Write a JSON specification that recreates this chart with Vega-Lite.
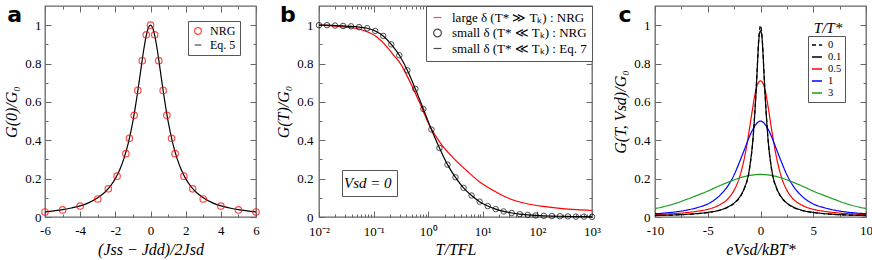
{
 "$schema": "https://vega.github.io/schema/vega-lite/v6.json",
 "padding": {"left": 3, "top": 3, "right": 0, "bottom": 3},
 "bounds": "flush",
 "spacing": 63,
 "resolve": {"scale": {"color": "independent", "shape": "independent", "strokeDash": "independent", "opacity": "independent"}, "legend": {"color": "independent", "shape": "independent", "strokeDash": "independent", "opacity": "independent"}},
 "config": {
  "font": "Liberation Serif",
  "view": {"stroke": "#666", "strokeWidth": 1.3},
  "axis": {"domain": false, "grid": false, "labelFont": "Liberation Serif", "labelFontSize": 13, "labelColor": "#000", "labelFlush": false, "labelOverlap": false, "titleFont": "Liberation Serif", "titleFontSize": 16, "titleFontStyle": "italic", "titleFontWeight": "normal", "titleColor": "#000", "tickColor": "#666", "tickWidth": 1},
  "legend": {"labelFont": "Liberation Serif", "labelColor": "#000", "strokeColor": "#555", "fillColor": "#fff"}
 },
 "hconcat": [
  {
   "width": 211, "height": 211,
   "data": {"values": [
    {"x": -6, "y": 0.027, "s": "Eq. 5"}, {"x": -5.5, "y": 0.032, "s": "Eq. 5"}, {"x": -5, "y": 0.038, "s": "Eq. 5"}, {"x": -4.5, "y": 0.047, "s": "Eq. 5"}, {"x": -4, "y": 0.058, "s": "Eq. 5"}, {"x": -3.5, "y": 0.075, "s": "Eq. 5"}, {"x": -3, "y": 0.1, "s": "Eq. 5"}, {"x": -2.75, "y": 0.117, "s": "Eq. 5"}, {"x": -2.5, "y": 0.138, "s": "Eq. 5"}, {"x": -2.25, "y": 0.165, "s": "Eq. 5"}, {"x": -2, "y": 0.2, "s": "Eq. 5"}, {"x": -1.75, "y": 0.246, "s": "Eq. 5"}, {"x": -1.5, "y": 0.308, "s": "Eq. 5"}, {"x": -1.25, "y": 0.39, "s": "Eq. 5"}, {"x": -1, "y": 0.5, "s": "Eq. 5"}, {"x": -0.875, "y": 0.566, "s": "Eq. 5"}, {"x": -0.75, "y": 0.64, "s": "Eq. 5"}, {"x": -0.625, "y": 0.719, "s": "Eq. 5"}, {"x": -0.5, "y": 0.8, "s": "Eq. 5"}, {"x": -0.375, "y": 0.877, "s": "Eq. 5"}, {"x": -0.25, "y": 0.941, "s": "Eq. 5"}, {"x": -0.125, "y": 0.985, "s": "Eq. 5"}, {"x": 0, "y": 1, "s": "Eq. 5"},
    {"x": 0.125, "y": 0.985, "s": "Eq. 5"}, {"x": 0.25, "y": 0.941, "s": "Eq. 5"}, {"x": 0.375, "y": 0.877, "s": "Eq. 5"}, {"x": 0.5, "y": 0.8, "s": "Eq. 5"}, {"x": 0.625, "y": 0.719, "s": "Eq. 5"}, {"x": 0.75, "y": 0.64, "s": "Eq. 5"}, {"x": 0.875, "y": 0.566, "s": "Eq. 5"}, {"x": 1, "y": 0.5, "s": "Eq. 5"}, {"x": 1.25, "y": 0.39, "s": "Eq. 5"}, {"x": 1.5, "y": 0.308, "s": "Eq. 5"}, {"x": 1.75, "y": 0.246, "s": "Eq. 5"}, {"x": 2, "y": 0.2, "s": "Eq. 5"}, {"x": 2.25, "y": 0.165, "s": "Eq. 5"}, {"x": 2.5, "y": 0.138, "s": "Eq. 5"}, {"x": 2.75, "y": 0.117, "s": "Eq. 5"}, {"x": 3, "y": 0.1, "s": "Eq. 5"}, {"x": 3.5, "y": 0.075, "s": "Eq. 5"}, {"x": 4, "y": 0.058, "s": "Eq. 5"}, {"x": 4.5, "y": 0.047, "s": "Eq. 5"}, {"x": 5, "y": 0.038, "s": "Eq. 5"}, {"x": 5.5, "y": 0.032, "s": "Eq. 5"}, {"x": 6, "y": 0.027, "s": "Eq. 5"},
    {"x": -6, "y": 0.026, "s": "NRG"}, {"x": -5, "y": 0.037, "s": "NRG"}, {"x": -4, "y": 0.057, "s": "NRG"}, {"x": -3, "y": 0.094, "s": "NRG"}, {"x": -2.4, "y": 0.147, "s": "NRG"}, {"x": -1.9, "y": 0.213, "s": "NRG"}, {"x": -1.4, "y": 0.33, "s": "NRG"}, {"x": -1.2, "y": 0.41, "s": "NRG"}, {"x": -0.93, "y": 0.53, "s": "NRG"}, {"x": -0.72, "y": 0.66, "s": "NRG"}, {"x": -0.47, "y": 0.815, "s": "NRG"}, {"x": -0.24, "y": 0.95, "s": "NRG"}, {"x": 0, "y": 1.0, "s": "NRG"},
    {"x": 0.24, "y": 0.95, "s": "NRG"}, {"x": 0.47, "y": 0.815, "s": "NRG"}, {"x": 0.72, "y": 0.66, "s": "NRG"}, {"x": 0.93, "y": 0.53, "s": "NRG"}, {"x": 1.2, "y": 0.41, "s": "NRG"}, {"x": 1.4, "y": 0.33, "s": "NRG"}, {"x": 1.9, "y": 0.213, "s": "NRG"}, {"x": 2.4, "y": 0.147, "s": "NRG"}, {"x": 3, "y": 0.094, "s": "NRG"}, {"x": 4, "y": 0.057, "s": "NRG"}, {"x": 5, "y": 0.037, "s": "NRG"}, {"x": 6, "y": 0.026, "s": "NRG"}
   ]},
   "resolve": {"axis": {"x": "independent", "y": "independent"}},
   "layer": [
    {
     "transform": [{"filter": "datum.s == 'Eq. 5'"}],
     "mark": {"type": "line", "strokeWidth": 1.2, "interpolate": "monotone"},
     "encoding": {
      "x": {"field": "x", "type": "quantitative", "scale": {"domain": [-6, 6], "nice": false},
            "axis": {"orient": "bottom", "values": [-6,-5,-4,-3,-2,-1,0,1,2,3,4,5,6], "tickSize": {"condition": {"test": "datum.value % 2 == 0", "value": -6}, "value": -3}, "labelExpr": "datum.value % 2 == 0 ? '' + datum.value : ''", "labelPadding": 13, "title": "(Jss − Jdd)/2Jsd", "titlePadding": 1}},
      "y": {"field": "y", "type": "quantitative", "scale": {"domain": [0, 1.1], "nice": false},
            "axis": {"orient": "left", "values": [0,0.1,0.2,0.3,0.4,0.5,0.6,0.7,0.8,0.9,1], "tickSize": {"condition": {"test": "round(datum.value*10) % 2 == 0", "value": -6}, "value": -3}, "labelExpr": "round(datum.value*10) % 2 == 0 ? format(datum.value, '~g') : ''", "labelPadding": 10, "title": "G(0)/G₀", "titlePadding": 5}},
      "color": {"field": "s", "type": "nominal", "scale": {"domain": ["NRG", "Eq. 5"], "range": ["#ff0000", "#000000"]},
                "legend": {"orient": "none", "legendX": 143, "legendY": 15, "title": null, "padding": 4, "labelFontSize": 12, "symbolSize": 45, "symbolStrokeWidth": 1.2, "rowPadding": 2, "labelOffset": 6}}
     }
    },
    {
     "transform": [{"filter": "datum.s == 'NRG'"}],
     "mark": {"type": "point", "filled": false, "size": 42, "strokeWidth": 1.2},
     "encoding": {
      "x": {"field": "x", "type": "quantitative", "axis": {"orient": "top", "values": [-6,-5,-4,-3,-2,-1,0,1,2,3,4,5,6], "tickSize": {"condition": {"test": "datum.value % 2 == 0", "value": -6}, "value": -3}, "labels": false, "title": null}},
      "y": {"field": "y", "type": "quantitative", "axis": {"orient": "right", "values": [0,0.1,0.2,0.3,0.4,0.5,0.6,0.7,0.8,0.9,1], "tickSize": {"condition": {"test": "round(datum.value*10) % 2 == 0", "value": -6}, "value": -3}, "labels": false, "title": null}},
      "color": {"field": "s", "type": "nominal", "scale": {"domain": ["NRG", "Eq. 5"], "range": ["#ff0000", "#000000"]},
                "legend": {"orient": "none", "legendX": 143, "legendY": 15, "title": null, "padding": 4, "labelFontSize": 12, "symbolSize": 45, "symbolStrokeWidth": 1.2, "rowPadding": 2, "labelOffset": 6}},
      "shape": {"field": "s", "type": "nominal", "scale": {"domain": ["NRG", "Eq. 5"], "range": ["circle", "stroke"]},
                "legend": {"orient": "none", "legendX": 143, "legendY": 15, "title": null, "padding": 4, "labelFontSize": 12, "symbolSize": 45, "symbolStrokeWidth": 1.2, "rowPadding": 2, "labelOffset": 6}}
     }
    },
    {
     "data": {"values": [{"t": "a"}]},
     "mark": {"type": "text", "font": "DejaVu Sans", "fontWeight": "bold", "fontSize": 22, "align": "center", "baseline": "alphabetic"},
     "encoding": {"text": {"field": "t"}, "x": {"datum": -7.73, "axis": null}, "y": {"datum": 1.015, "axis": null}}
    }
   ]
  },
  {
   "width": 273, "height": 211,
   "data": {"values": [
    {"x": 0.01, "y": 1.0, "s": "large"}, {"x": 0.02, "y": 0.995, "s": "large"}, {"x": 0.03, "y": 0.99, "s": "large"}, {"x": 0.056, "y": 0.979, "s": "large"}, {"x": 0.113, "y": 0.94, "s": "large"}, {"x": 0.16, "y": 0.9, "s": "large"}, {"x": 0.23, "y": 0.845, "s": "large"}, {"x": 0.31, "y": 0.8, "s": "large"}, {"x": 0.46, "y": 0.707, "s": "large"}, {"x": 0.7, "y": 0.595, "s": "large"}, {"x": 1.07, "y": 0.474, "s": "large"}, {"x": 1.65, "y": 0.388, "s": "large"}, {"x": 2.9, "y": 0.307, "s": "large"}, {"x": 5.1, "y": 0.241, "s": "large"}, {"x": 8.9, "y": 0.181, "s": "large"}, {"x": 15.6, "y": 0.138, "s": "large"}, {"x": 31, "y": 0.095, "s": "large"}, {"x": 64, "y": 0.069, "s": "large"}, {"x": 130, "y": 0.055, "s": "large"}, {"x": 260, "y": 0.045, "s": "large"}, {"x": 520, "y": 0.038, "s": "large"}, {"x": 1000, "y": 0.034, "s": "large"},
    {"x": 0.01, "y": 1.0, "s": "eq7"}, {"x": 0.014, "y": 1.0, "s": "eq7"}, {"x": 0.0197, "y": 0.998, "s": "eq7"}, {"x": 0.0276, "y": 0.996, "s": "eq7"}, {"x": 0.0387, "y": 0.994, "s": "eq7"}, {"x": 0.0543, "y": 0.99, "s": "eq7"}, {"x": 0.0762, "y": 0.984, "s": "eq7"}, {"x": 0.107, "y": 0.97, "s": "eq7"}, {"x": 0.15, "y": 0.944, "s": "eq7"}, {"x": 0.211, "y": 0.9, "s": "eq7"}, {"x": 0.296, "y": 0.843, "s": "eq7"}, {"x": 0.415, "y": 0.765, "s": "eq7"}, {"x": 0.582, "y": 0.668, "s": "eq7"}, {"x": 0.816, "y": 0.563, "s": "eq7"}, {"x": 1.145, "y": 0.456, "s": "eq7"}, {"x": 1.607, "y": 0.36, "s": "eq7"}, {"x": 2.254, "y": 0.273, "s": "eq7"}, {"x": 3.16, "y": 0.207, "s": "eq7"}, {"x": 4.44, "y": 0.152, "s": "eq7"}, {"x": 6.23, "y": 0.112, "s": "eq7"}, {"x": 8.74, "y": 0.08, "s": "eq7"}, {"x": 12.3, "y": 0.057, "s": "eq7"}, {"x": 17.2, "y": 0.041, "s": "eq7"}, {"x": 24.1, "y": 0.029, "s": "eq7"}, {"x": 33.8, "y": 0.021, "s": "eq7"}, {"x": 47.5, "y": 0.015, "s": "eq7"}, {"x": 66.6, "y": 0.011, "s": "eq7"}, {"x": 93.4, "y": 0.008, "s": "eq7"}, {"x": 131, "y": 0.006, "s": "eq7"}, {"x": 184, "y": 0.005, "s": "eq7"}, {"x": 258, "y": 0.004, "s": "eq7"}, {"x": 362, "y": 0.003, "s": "eq7"}, {"x": 508, "y": 0.002, "s": "eq7"}, {"x": 713, "y": 0.002, "s": "eq7"}, {"x": 1000, "y": 0.001, "s": "eq7"},
    {"x": 0.01, "y": 1.0, "s": "nrg"}, {"x": 0.014, "y": 1.0, "s": "nrg"}, {"x": 0.0197, "y": 0.998, "s": "nrg"}, {"x": 0.0276, "y": 0.996, "s": "nrg"}, {"x": 0.0387, "y": 0.994, "s": "nrg"}, {"x": 0.0543, "y": 0.99, "s": "nrg"}, {"x": 0.0762, "y": 0.984, "s": "nrg"}, {"x": 0.107, "y": 0.97, "s": "nrg"}, {"x": 0.15, "y": 0.944, "s": "nrg"}, {"x": 0.211, "y": 0.9, "s": "nrg"}, {"x": 0.296, "y": 0.843, "s": "nrg"}, {"x": 0.415, "y": 0.765, "s": "nrg"}, {"x": 0.582, "y": 0.668, "s": "nrg"}, {"x": 0.816, "y": 0.563, "s": "nrg"}, {"x": 1.145, "y": 0.456, "s": "nrg"}, {"x": 1.607, "y": 0.36, "s": "nrg"}, {"x": 2.254, "y": 0.273, "s": "nrg"}, {"x": 3.16, "y": 0.207, "s": "nrg"}, {"x": 4.44, "y": 0.152, "s": "nrg"}, {"x": 6.23, "y": 0.112, "s": "nrg"}, {"x": 8.74, "y": 0.08, "s": "nrg"}, {"x": 12.3, "y": 0.057, "s": "nrg"}, {"x": 17.2, "y": 0.041, "s": "nrg"}, {"x": 24.1, "y": 0.029, "s": "nrg"}, {"x": 33.8, "y": 0.021, "s": "nrg"}, {"x": 47.5, "y": 0.015, "s": "nrg"}, {"x": 66.6, "y": 0.011, "s": "nrg"}, {"x": 93.4, "y": 0.008, "s": "nrg"}, {"x": 131, "y": 0.006, "s": "nrg"}, {"x": 184, "y": 0.005, "s": "nrg"}, {"x": 258, "y": 0.004, "s": "nrg"}, {"x": 362, "y": 0.003, "s": "nrg"}, {"x": 508, "y": 0.002, "s": "nrg"}, {"x": 713, "y": 0.002, "s": "nrg"}, {"x": 1000, "y": 0.001, "s": "nrg"}
   ]},
   "resolve": {"axis": {"x": "independent", "y": "independent"}},
   "layer": [
    {
     "transform": [{"filter": "datum.s == 'large'"}],
     "mark": {"type": "line", "strokeWidth": 1.2, "interpolate": "monotone"},
     "encoding": {
      "x": {"field": "x", "type": "quantitative", "scale": {"type": "log", "domain": [0.01, 1000], "nice": false},
            "axis": {"orient": "bottom", "values": [0.01,0.02,0.03,0.04,0.05,0.06,0.07,0.08,0.09,0.1,0.2,0.3,0.4,0.5,0.6,0.7,0.8,0.9,1,2,3,4,5,6,7,8,9,10,20,30,40,50,60,70,80,90,100,200,300,400,500,600,700,800,900,1000],
                     "tickSize": {"condition": {"test": "abs(log(datum.value)/LN10 - round(log(datum.value)/LN10)) < 0.000001", "value": -6}, "value": -3},
                     "labelExpr": "abs(log(datum.value)/LN10 - round(log(datum.value)/LN10)) < 0.000001 ? '10' + ['⁻²','⁻¹','⁰','¹','²','³'][round(log(datum.value)/LN10) + 2] : ''",
                     "labelPadding": 14, "title": "T/TFL", "titlePadding": 0}},
      "y": {"field": "y", "type": "quantitative", "scale": {"domain": [0, 1.1], "nice": false},
            "axis": {"orient": "left", "values": [0,0.1,0.2,0.3,0.4,0.5,0.6,0.7,0.8,0.9,1], "tickSize": {"condition": {"test": "round(datum.value*10) % 2 == 0", "value": -6}, "value": -3}, "labelExpr": "round(datum.value*10) % 2 == 0 ? format(datum.value, '~g') : ''", "labelPadding": 12, "title": "G(T)/G₀", "titlePadding": 5}},
      "color": {"field": "s", "type": "nominal", "scale": {"domain": ["large", "nrg", "eq7"], "range": ["#ff0000", "#000000", "#000000"]},
                "legend": {"orient": "top-right", "offset": 0, "title": null, "padding": 5, "labelFontSize": 13, "symbolSize": 60, "symbolStrokeWidth": 1.2, "rowPadding": 1.5, "labelOffset": 8,
                           "labelExpr": "datum.label == 'large' ? 'large δ (T* ≫ Tₖ) : NRG' : datum.label == 'nrg' ? 'small δ (T* ≪ Tₖ) : NRG' : 'small δ (T* ≪ Tₖ) : Eq. 7'"}}
     }
    },
    {
     "transform": [{"filter": "datum.s == 'eq7'"}],
     "mark": {"type": "line", "strokeWidth": 1.2, "interpolate": "monotone"},
     "encoding": {
      "x": {"field": "x", "type": "quantitative", "axis": {"orient": "top", "values": [0.01,0.02,0.03,0.04,0.05,0.06,0.07,0.08,0.09,0.1,0.2,0.3,0.4,0.5,0.6,0.7,0.8,0.9,1,2,3,4,5,6,7,8,9,10,20,30,40,50,60,70,80,90,100,200,300,400,500,600,700,800,900,1000], "tickSize": {"condition": {"test": "abs(log(datum.value)/LN10 - round(log(datum.value)/LN10)) < 0.000001", "value": -6}, "value": -3}, "labels": false, "title": null}},
      "y": {"field": "y", "type": "quantitative", "axis": {"orient": "right", "values": [0,0.1,0.2,0.3,0.4,0.5,0.6,0.7,0.8,0.9,1], "tickSize": {"condition": {"test": "round(datum.value*10) % 2 == 0", "value": -6}, "value": -3}, "labels": false, "title": null}},
      "color": {"field": "s", "type": "nominal", "scale": {"domain": ["large", "nrg", "eq7"], "range": ["#ff0000", "#000000", "#000000"]},
                "legend": {"orient": "top-right", "offset": 0, "title": null, "padding": 5, "labelFontSize": 13, "symbolSize": 60, "symbolStrokeWidth": 1.2, "rowPadding": 1.5, "labelOffset": 8,
                           "labelExpr": "datum.label == 'large' ? 'large δ (T* ≫ Tₖ) : NRG' : datum.label == 'nrg' ? 'small δ (T* ≪ Tₖ) : NRG' : 'small δ (T* ≪ Tₖ) : Eq. 7'"}}
     }
    },
    {
     "transform": [{"filter": "datum.s == 'nrg'"}],
     "mark": {"type": "point", "filled": false, "size": 30, "strokeWidth": 1},
     "encoding": {
      "x": {"field": "x", "type": "quantitative", "axis": null},
      "y": {"field": "y", "type": "quantitative", "axis": null},
      "color": {"field": "s", "type": "nominal", "scale": {"domain": ["large", "nrg", "eq7"], "range": ["#ff0000", "#000000", "#000000"]},
                "legend": {"orient": "top-right", "offset": 0, "title": null, "padding": 5, "labelFontSize": 13, "symbolSize": 60, "symbolStrokeWidth": 1.2, "rowPadding": 1.5, "labelOffset": 8,
                           "labelExpr": "datum.label == 'large' ? 'large δ (T* ≫ Tₖ) : NRG' : datum.label == 'nrg' ? 'small δ (T* ≪ Tₖ) : NRG' : 'small δ (T* ≪ Tₖ) : Eq. 7'"}},
      "shape": {"field": "s", "type": "nominal", "scale": {"domain": ["large", "nrg", "eq7"], "range": ["stroke", "circle", "stroke"]},
                "legend": {"orient": "top-right", "offset": 0, "title": null, "padding": 5, "labelFontSize": 13, "symbolSize": 60, "symbolStrokeWidth": 1.2, "rowPadding": 1.5, "labelOffset": 8,
                           "labelExpr": "datum.label == 'large' ? 'large δ (T* ≫ Tₖ) : NRG' : datum.label == 'nrg' ? 'small δ (T* ≪ Tₖ) : NRG' : 'small δ (T* ≪ Tₖ) : Eq. 7'"}}
     }
    },
    {
     "data": {"values": [{"t": "b", "note": "Vsd = 0"}]},
     "mark": {"type": "text", "font": "DejaVu Sans", "fontWeight": "bold", "fontSize": 22, "align": "center", "baseline": "alphabetic"},
     "encoding": {"text": {"field": "t"}, "x": {"datum": 0.00269, "axis": null}, "y": {"datum": 1.015, "axis": null},
                  "opacity": {"field": "note", "type": "ordinal", "scale": {"range": [1, 1]},
                              "legend": {"orient": "none", "legendX": 23, "legendY": 164, "title": null, "symbolSize": 0, "symbolOpacity": 0, "symbolStrokeWidth": 0, "labelOffset": -18, "labelFontSize": 15, "labelFontStyle": "italic", "padding": 5}}}
    }
   ]
  },
  {
   "width": 211, "height": 211,
   "data": {"values": [
    {"x": -10, "y": 0.012, "T": "0.5"}, {"x": -9, "y": 0.015, "T": "0.5"}, {"x": -8, "y": 0.018, "T": "0.5"}, {"x": -7, "y": 0.023, "T": "0.5"}, {"x": -6, "y": 0.03, "T": "0.5"}, {"x": -5, "y": 0.04, "T": "0.5"}, {"x": -4, "y": 0.06, "T": "0.5"}, {"x": -3, "y": 0.1, "T": "0.5"}, {"x": -2.5, "y": 0.14, "T": "0.5"}, {"x": -2, "y": 0.205, "T": "0.5"}, {"x": -1.5, "y": 0.315, "T": "0.5"}, {"x": -1.25, "y": 0.39, "T": "0.5"}, {"x": -1, "y": 0.475, "T": "0.5"}, {"x": -0.75, "y": 0.565, "T": "0.5"}, {"x": -0.5, "y": 0.645, "T": "0.5"}, {"x": -0.25, "y": 0.695, "T": "0.5"}, {"x": 0, "y": 0.71, "T": "0.5"}, {"x": 0.25, "y": 0.695, "T": "0.5"}, {"x": 0.5, "y": 0.645, "T": "0.5"}, {"x": 0.75, "y": 0.565, "T": "0.5"}, {"x": 1, "y": 0.475, "T": "0.5"}, {"x": 1.25, "y": 0.39, "T": "0.5"}, {"x": 1.5, "y": 0.315, "T": "0.5"}, {"x": 2, "y": 0.205, "T": "0.5"}, {"x": 2.5, "y": 0.14, "T": "0.5"}, {"x": 3, "y": 0.1, "T": "0.5"}, {"x": 4, "y": 0.06, "T": "0.5"}, {"x": 5, "y": 0.04, "T": "0.5"}, {"x": 6, "y": 0.03, "T": "0.5"}, {"x": 7, "y": 0.023, "T": "0.5"}, {"x": 8, "y": 0.018, "T": "0.5"}, {"x": 9, "y": 0.015, "T": "0.5"}, {"x": 10, "y": 0.012, "T": "0.5"},
    {"x": -10, "y": 0.017, "T": "1"}, {"x": -9, "y": 0.021, "T": "1"}, {"x": -8, "y": 0.027, "T": "1"}, {"x": -7, "y": 0.036, "T": "1"}, {"x": -6, "y": 0.049, "T": "1"}, {"x": -5, "y": 0.068, "T": "1"}, {"x": -4, "y": 0.105, "T": "1"}, {"x": -3.5, "y": 0.133, "T": "1"}, {"x": -3, "y": 0.17, "T": "1"}, {"x": -2.5, "y": 0.22, "T": "1"}, {"x": -2, "y": 0.285, "T": "1"}, {"x": -1.5, "y": 0.355, "T": "1"}, {"x": -1, "y": 0.425, "T": "1"}, {"x": -0.5, "y": 0.478, "T": "1"}, {"x": 0, "y": 0.5, "T": "1"}, {"x": 0.5, "y": 0.478, "T": "1"}, {"x": 1, "y": 0.425, "T": "1"}, {"x": 1.5, "y": 0.355, "T": "1"}, {"x": 2, "y": 0.285, "T": "1"}, {"x": 2.5, "y": 0.22, "T": "1"}, {"x": 3, "y": 0.17, "T": "1"}, {"x": 3.5, "y": 0.133, "T": "1"}, {"x": 4, "y": 0.105, "T": "1"}, {"x": 5, "y": 0.068, "T": "1"}, {"x": 6, "y": 0.049, "T": "1"}, {"x": 7, "y": 0.036, "T": "1"}, {"x": 8, "y": 0.027, "T": "1"}, {"x": 9, "y": 0.021, "T": "1"}, {"x": 10, "y": 0.017, "T": "1"},
    {"x": -10, "y": 0.044, "T": "3"}, {"x": -9, "y": 0.056, "T": "3"}, {"x": -8, "y": 0.072, "T": "3"}, {"x": -7, "y": 0.092, "T": "3"}, {"x": -6, "y": 0.113, "T": "3"}, {"x": -5, "y": 0.135, "T": "3"}, {"x": -4, "y": 0.16, "T": "3"}, {"x": -3, "y": 0.183, "T": "3"}, {"x": -2, "y": 0.203, "T": "3"}, {"x": -1, "y": 0.217, "T": "3"}, {"x": 0, "y": 0.222, "T": "3"}, {"x": 1, "y": 0.217, "T": "3"}, {"x": 2, "y": 0.203, "T": "3"}, {"x": 3, "y": 0.183, "T": "3"}, {"x": 4, "y": 0.16, "T": "3"}, {"x": 5, "y": 0.135, "T": "3"}, {"x": 6, "y": 0.113, "T": "3"}, {"x": 7, "y": 0.092, "T": "3"}, {"x": 8, "y": 0.072, "T": "3"}, {"x": 9, "y": 0.056, "T": "3"}, {"x": 10, "y": 0.044, "T": "3"},
    {"x": -10, "y": 0.008, "T": "0.1"}, {"x": -9, "y": 0.009, "T": "0.1"}, {"x": -8, "y": 0.011, "T": "0.1"}, {"x": -7, "y": 0.014, "T": "0.1"}, {"x": -6, "y": 0.018, "T": "0.1"}, {"x": -5, "y": 0.024, "T": "0.1"}, {"x": -4, "y": 0.034, "T": "0.1"}, {"x": -3, "y": 0.055, "T": "0.1"}, {"x": -2.5, "y": 0.073, "T": "0.1"}, {"x": -2, "y": 0.102, "T": "0.1"}, {"x": -1.5, "y": 0.155, "T": "0.1"}, {"x": -1.15, "y": 0.22, "T": "0.1"}, {"x": -1, "y": 0.27, "T": "0.1"}, {"x": -0.7, "y": 0.415, "T": "0.1"}, {"x": -0.5, "y": 0.575, "T": "0.1"}, {"x": -0.3, "y": 0.78, "T": "0.1"}, {"x": -0.2, "y": 0.89, "T": "0.1"}, {"x": -0.1, "y": 0.955, "T": "0.1"}, {"x": 0, "y": 0.97, "T": "0.1"}, {"x": 0.1, "y": 0.955, "T": "0.1"}, {"x": 0.2, "y": 0.89, "T": "0.1"}, {"x": 0.3, "y": 0.78, "T": "0.1"}, {"x": 0.5, "y": 0.575, "T": "0.1"}, {"x": 0.7, "y": 0.415, "T": "0.1"}, {"x": 1, "y": 0.27, "T": "0.1"}, {"x": 1.15, "y": 0.22, "T": "0.1"}, {"x": 1.5, "y": 0.155, "T": "0.1"}, {"x": 2, "y": 0.102, "T": "0.1"}, {"x": 2.5, "y": 0.073, "T": "0.1"}, {"x": 3, "y": 0.055, "T": "0.1"}, {"x": 4, "y": 0.034, "T": "0.1"}, {"x": 5, "y": 0.024, "T": "0.1"}, {"x": 6, "y": 0.018, "T": "0.1"}, {"x": 7, "y": 0.014, "T": "0.1"}, {"x": 8, "y": 0.011, "T": "0.1"}, {"x": 9, "y": 0.009, "T": "0.1"}, {"x": 10, "y": 0.008, "T": "0.1"},
    {"x": -10, "y": 0.007, "T": "0"}, {"x": -9, "y": 0.009, "T": "0"}, {"x": -8, "y": 0.011, "T": "0"}, {"x": -7, "y": 0.013, "T": "0"}, {"x": -6, "y": 0.017, "T": "0"}, {"x": -5, "y": 0.023, "T": "0"}, {"x": -4, "y": 0.033, "T": "0"}, {"x": -3, "y": 0.053, "T": "0"}, {"x": -2.5, "y": 0.071, "T": "0"}, {"x": -2, "y": 0.1, "T": "0"}, {"x": -1.5, "y": 0.152, "T": "0"}, {"x": -1.15, "y": 0.215, "T": "0"}, {"x": -1, "y": 0.265, "T": "0"}, {"x": -0.7, "y": 0.415, "T": "0"}, {"x": -0.5, "y": 0.58, "T": "0"}, {"x": -0.3, "y": 0.79, "T": "0"}, {"x": -0.2, "y": 0.9, "T": "0"}, {"x": -0.1, "y": 0.97, "T": "0"}, {"x": 0, "y": 1.0, "T": "0"}, {"x": 0.1, "y": 0.97, "T": "0"}, {"x": 0.2, "y": 0.9, "T": "0"}, {"x": 0.3, "y": 0.79, "T": "0"}, {"x": 0.5, "y": 0.58, "T": "0"}, {"x": 0.7, "y": 0.415, "T": "0"}, {"x": 1, "y": 0.265, "T": "0"}, {"x": 1.15, "y": 0.215, "T": "0"}, {"x": 1.5, "y": 0.152, "T": "0"}, {"x": 2, "y": 0.1, "T": "0"}, {"x": 2.5, "y": 0.071, "T": "0"}, {"x": 3, "y": 0.053, "T": "0"}, {"x": 4, "y": 0.033, "T": "0"}, {"x": 5, "y": 0.023, "T": "0"}, {"x": 6, "y": 0.017, "T": "0"}, {"x": 7, "y": 0.013, "T": "0"}, {"x": 8, "y": 0.011, "T": "0"}, {"x": 9, "y": 0.009, "T": "0"}, {"x": 10, "y": 0.007, "T": "0"}
   ]},
   "resolve": {"axis": {"x": "independent", "y": "independent"}},
   "layer": [
    {
     "mark": {"type": "line", "strokeWidth": 1.2, "interpolate": "monotone"},
     "encoding": {
      "x": {"field": "x", "type": "quantitative", "scale": {"domain": [-10, 10], "nice": false},
            "axis": {"orient": "bottom", "values": [-10,-7.5,-5,-2.5,0,2.5,5,7.5,10], "tickSize": {"condition": {"test": "datum.value % 5 == 0", "value": -6}, "value": -3}, "labelExpr": "datum.value % 5 == 0 ? '' + datum.value : ''", "labelPadding": 13, "title": "eVsd/kBT*", "titlePadding": 1}},
      "y": {"field": "y", "type": "quantitative", "scale": {"domain": [0, 1.1], "nice": false},
            "axis": {"orient": "left", "values": [0,0.1,0.2,0.3,0.4,0.5,0.6,0.7,0.8,0.9,1], "tickSize": {"condition": {"test": "round(datum.value*10) % 2 == 0", "value": -6}, "value": -3}, "labelExpr": "round(datum.value*10) % 2 == 0 ? format(datum.value, '~g') : ''", "labelPadding": 11, "title": "G(T, Vsd)/G₀", "titlePadding": 5}},
      "color": {"field": "T", "type": "nominal", "scale": {"domain": ["0", "0.1", "0.5", "1", "3"], "range": ["#000000", "#000000", "#ff0000", "#0000ff", "#1a9e1a"]},
                "legend": {"orient": "none", "legendX": 153, "legendY": 30, "title": null, "padding": 3, "labelFontSize": 10.5, "symbolSize": 100, "symbolStrokeWidth": 1.5, "rowPadding": 0, "labelOffset": 5}},
      "strokeDash": {"field": "T", "type": "nominal", "scale": {"domain": ["0", "0.1", "0.5", "1", "3"], "range": [[4, 3], [1, 0], [1, 0], [1, 0], [1, 0]]},
                "legend": {"orient": "none", "legendX": 153, "legendY": 30, "title": null, "padding": 3, "labelFontSize": 10.5, "symbolSize": 100, "symbolStrokeWidth": 1.5, "rowPadding": 0, "labelOffset": 5}}
     }
    },
    {
     "data": {"values": [{"t": "c"}]},
     "mark": {"type": "text", "font": "DejaVu Sans", "fontWeight": "bold", "fontSize": 22, "align": "center", "baseline": "alphabetic"},
     "encoding": {"text": {"field": "t"},
      "x": {"datum": -12.84, "axis": {"orient": "top", "values": [-10,-7.5,-5,-2.5,0,2.5,5,7.5,10], "tickSize": {"condition": {"test": "datum.value % 5 == 0", "value": -6}, "value": -3}, "labels": false, "title": null}},
      "y": {"datum": 1.015, "axis": {"orient": "right", "values": [0,0.1,0.2,0.3,0.4,0.5,0.6,0.7,0.8,0.9,1], "tickSize": {"condition": {"test": "round(datum.value*10) % 2 == 0", "value": -6}, "value": -3}, "labels": false, "title": null}}}
    },
    {
     "data": {"values": [{"t": "T/T*"}]},
     "mark": {"type": "text", "font": "Liberation Serif", "fontStyle": "italic", "fontSize": 15, "align": "center", "baseline": "alphabetic"},
     "encoding": {"text": {"field": "t"}, "x": {"datum": 6.4, "axis": null}, "y": {"datum": 0.959, "axis": null}}
    }
   ]
  }
 ]
}
